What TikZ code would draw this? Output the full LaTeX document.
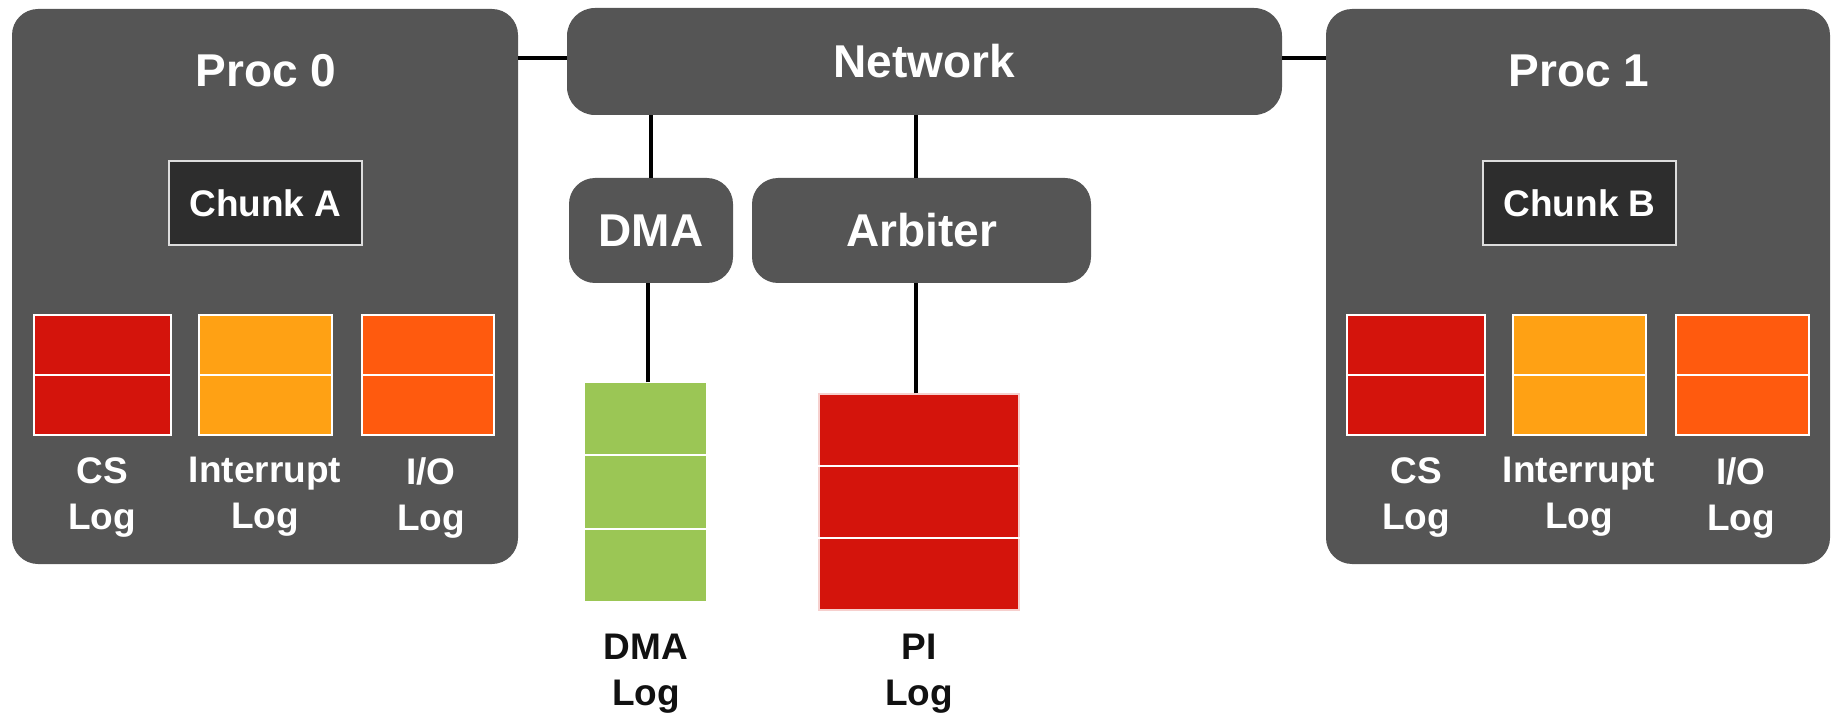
\documentclass[tikz,border=0pt]{standalone}
\usepackage{fontspec}
\setmainfont{Liberation Sans}
\usetikzlibrary{calc}
\definecolor{boxgray}{HTML}{555555}
\definecolor{chunkgray}{HTML}{2D2D2D}
\definecolor{chunkedge}{HTML}{DDDDDD}
\definecolor{logred}{HTML}{D4140C}
\definecolor{logamber}{HTML}{FFA114}
\definecolor{logorange}{HTML}{FF5A0E}
\definecolor{loggreen}{HTML}{9BC655}
\definecolor{inkblack}{HTML}{111111}
\begin{document}
\begin{tikzpicture}[x=1pt,y=-1pt,
  panel/.style={fill=boxgray, rounded corners=26pt, inner sep=0pt, text=white},
  bigtext/.style={font=\fontsize{46}{50}\selectfont\bfseries},
  smalltext/.style={font=\fontsize{37}{46}\selectfont\bfseries},
  capbig/.style={bigtext, text height=33pt, text depth=0pt},
  chunkbox/.style={fill=chunkgray, draw=chunkedge, line width=1.5pt, minimum width=193pt,
    minimum height=84pt, inner sep=0pt, text=white, smalltext, text height=26.5pt, text depth=0pt},
  logcell/.style={draw=white, line width=1.5pt, inner sep=0pt},
  divider/.style={draw=white, line width=2pt},
  wire/.style={line width=3.5pt, black},
  loglabel/.style={smalltext, align=center, anchor=north, inner sep=0pt},
]
\useasboundingbox (0,0) rectangle (1832,714);

% processors
\node[panel, minimum width=506pt, minimum height=555pt] (proc0) at (265,286.5) {};
\node[panel, minimum width=504pt, minimum height=555pt] (proc1) at (1578,286.5) {};
\node[bigtext, text=white, anchor=base, inner sep=0pt] (p0title) at (266,86.5) {Proc 0};
\node[bigtext, text=white, anchor=base, inner sep=0pt] (p1title) at (1579,86.5) {Proc 1};

% shared blocks
\node[panel, rounded corners=28pt, minimum width=715pt, minimum height=107pt, capbig] (net) at (924.5,61.5) {Network};
\node[panel, minimum width=164pt, minimum height=105pt, capbig] (dma) at (651,230.5) {DMA};
\node[panel, minimum width=339pt, minimum height=105pt, capbig] (arb) at (921.5,230.5) {Arbiter};

% bus columns and the processor link row
\coordinate (linkrow) at (0,58);
\coordinate (dmabus) at (648,0);
\coordinate (arbbus) at (916,0);

% chunks
\node[chunkbox] (chunkA) at (265.5,203) {Chunk A};
\node[chunkbox] (chunkB) at (1579.5,203) {Chunk B};

% per-processor logs
\foreach \nm/\cx/\w/\col in {p0cs/102.5/137/logred, p0int/265.5/133/logamber, p0io/428/132/logorange,
                             p1cs/1416/138/logred, p1int/1579.5/133/logamber, p1io/1742.5/133/logorange} {
  \node[logcell, fill=\col, minimum width=\w pt, minimum height=120pt] (\nm) at (\cx,375) {};
  \draw[divider] (\nm.west) -- (\nm.east);
}
\node[loglabel, text=white] (p0csl) at (102,457) {CS\\Log};
\node[loglabel, text=white] (p0intl) at (265,457) {Interrupt\\Log};
\node[loglabel, text=white] (p0iol) at (431,457) {I/O\\Log};
\node[loglabel, text=white] (p1csl) at (1416,457) {CS\\Log};
\node[loglabel, text=white] (p1intl) at (1579,457) {Interrupt\\Log};
\node[loglabel, text=white] (p1iol) at (1741,457) {I/O\\Log};

% DMA and PI logs
\node[logcell, fill=loggreen, draw=none, minimum width=121pt, minimum height=218pt] (dmalog) at (645.5,492) {};
\draw[divider] ($(dmalog.north west)!1/3!(dmalog.south west)$) -- ($(dmalog.north east)!1/3!(dmalog.south east)$);
\draw[divider] ($(dmalog.north west)!2/3!(dmalog.south west)$) -- ($(dmalog.north east)!2/3!(dmalog.south east)$);
\node[logcell, fill=logred, draw=white!80!logred, minimum width=200pt, minimum height=216pt] (pilog) at (919,502) {};
\draw[divider] ($(pilog.north west)!1/3!(pilog.south west)$) -- ($(pilog.north east)!1/3!(pilog.south east)$);
\draw[divider] ($(pilog.north west)!2/3!(pilog.south west)$) -- ($(pilog.north east)!2/3!(pilog.south east)$);
\node[loglabel, text=inkblack] (dmalogl) at (646,634) {DMA\\Log};
\node[loglabel, text=inkblack] (pilogl) at (919,634) {PI\\Log};

% connections
\draw[wire] (proc0.east |- linkrow) -- (net.west |- linkrow);
\draw[wire] (net.east |- linkrow) -- (proc1.west |- linkrow);
\draw[wire] (dma.north) -- (dma.north |- net.south);
\draw[wire] (arb.north -| arbbus) -- (net.south -| arbbus);
\draw[wire] (dmalog.north -| dmabus) -- (dma.south -| dmabus);
\draw[wire] (pilog.north -| arbbus) -- (arb.south -| arbbus);
\end{tikzpicture}
\end{document}
